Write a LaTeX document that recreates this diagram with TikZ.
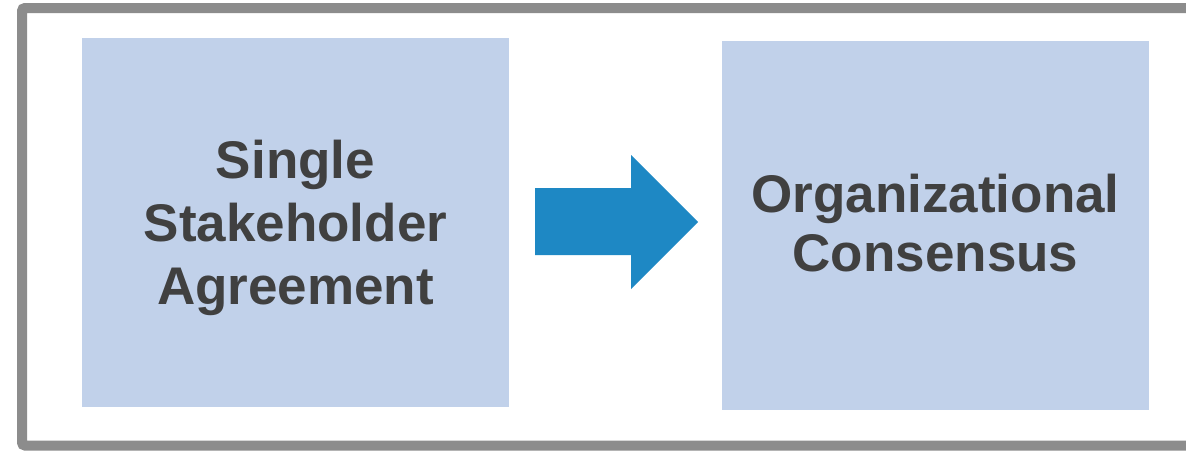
\documentclass[tikz,border=0pt]{standalone}
\usepackage{fontspec}
\setmainfont{Liberation Sans}
\definecolor{boxfill}{HTML}{C1D1EA}
\definecolor{arrowblue}{HTML}{1E88C4}
\definecolor{framegray}{HTML}{8C8C8C}
\definecolor{textgray}{HTML}{404040}
\begin{document}
\begin{tikzpicture}[x=1pt,y=-1pt,
  stagetext/.style={align=center, text=textgray, inner sep=0pt},
  frame/.style={draw=framegray, line width=10pt, rounded corners=3pt}]
\useasboundingbox (0,0) rectangle (1186,450);
\clip (0,0) rectangle (1186,450);
\fill[white] (0,0) rectangle (1186,450);
\draw[frame] (1200,8) -- (22,8) -- (22,445.5) -- (1200,445.5);
\fill[boxfill] (82,38) rectangle (509,407);
\fill[boxfill] (722,41) rectangle (1149,410);
\node[stagetext, font=\bfseries\fontsize{53}{63}\selectfont] (left) at (295.5,228) {Single\\Stakeholder\\Agreement};
\node[stagetext, font=\bfseries\fontsize{53}{59}\selectfont] (right) at (935.5,223) {Organizational\\Consensus};
\fill[arrowblue] (535,188) -- (631,188) -- (631,155) -- (698,222) -- (631,289) -- (631,255) -- (535,255) -- cycle;
\end{tikzpicture}
\end{document}
